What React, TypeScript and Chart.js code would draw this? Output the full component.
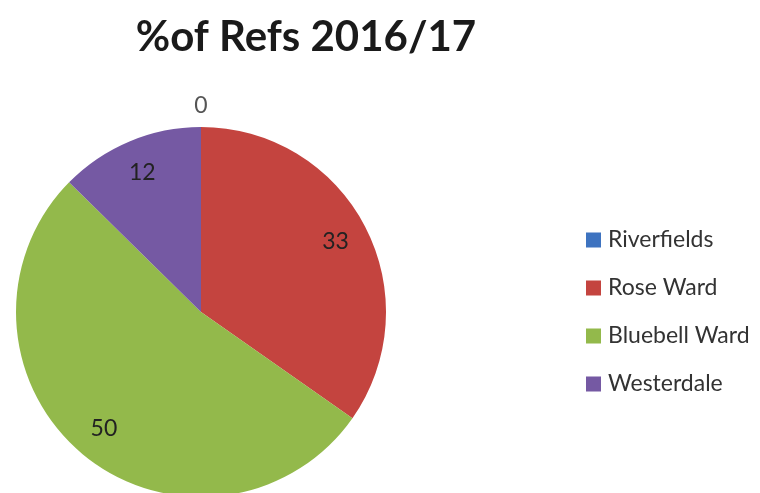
import React, { useEffect, useRef } from "react";
import { Chart, registerables } from "chart.js";

Chart.register(...registerables);

const TITLE = "%of Refs 2016/17";
const CATEGORIES = ["Riverfields", "Rose Ward", "Bluebell Ward", "Westerdale"];
const VALUES = [0, 33, 50, 12];
const COLORS = ["#3E73C0", "#C4443F", "#93B94B", "#7559A3"];

const FONT = "Lato, 'Open Sans', sans-serif";

const overlayPlugin = {
  id: "overlay",
  afterDraw(chart: any) {
    const ctx = chart.ctx;
    ctx.save();
    // Title
    ctx.fillStyle = "#1a1a1a";
    ctx.font = `bold 42px ${FONT}`;
    ctx.textAlign = "center";
    ctx.textBaseline = "alphabetic";
    ctx.fillText(TITLE, 306, 51);

    // Legend
    const labels: string[] = chart.data.labels;
    const colors: string[] = chart.data.datasets[0].backgroundColor;
    ctx.font = `23px ${FONT}`;
    ctx.textAlign = "left";
    ctx.textBaseline = "middle";
    labels.forEach((lab, i) => {
      const y = 240 + i * 48;
      ctx.fillStyle = colors[i];
      ctx.fillRect(586, y - 7.5, 15, 15);
      ctx.fillStyle = "#333";
      ctx.fillText(lab, 608, y);
    });

    // Data labels
    const meta = chart.getDatasetMeta(0);
    const data: number[] = chart.data.datasets[0].data;
    ctx.font = `23px ${FONT}`;
    ctx.textAlign = "center";
    ctx.textBaseline = "middle";
    meta.data.forEach((arc: any, i: number) => {
      const { x, y, startAngle, endAngle, outerRadius } = arc.getProps(
        ["x", "y", "startAngle", "endAngle", "outerRadius"],
        true
      );
      const mid = (startAngle + endAngle) / 2;
      const v = data[i];
      const r = v === 0 ? outerRadius + 21 : outerRadius * 0.82;
      ctx.fillStyle = v === 0 ? "#555" : "#222";
      ctx.fillText(String(v), x + Math.cos(mid) * r, y + Math.sin(mid) * r);
    });
    ctx.restore();
  },
};

export default function App() {
  const ref = useRef<HTMLCanvasElement | null>(null);
  useEffect(() => {
    if (!ref.current) return;
    const chart = new Chart(ref.current, {
      type: "pie",
      data: {
        labels: CATEGORIES,
        datasets: [
          {
            data: VALUES,
            backgroundColor: COLORS,
            borderWidth: 0,
            hoverOffset: 0,
          },
        ],
      },
      options: {
        responsive: false,
        maintainAspectRatio: false,
        animation: false,
        layout: { padding: { left: 16, right: 374, top: 127, bottom: 23 } },
        plugins: {
          legend: { display: false },
          title: { display: false },
          tooltip: { enabled: false },
        },
      },
      plugins: [overlayPlugin],
    });
    return () => chart.destroy();
  }, []);
  return (
    <div
      style={{
        position: "absolute",
        left: 0,
        top: 0,
        width: 760,
        height: 493,
        overflow: "hidden",
        background: "#fff",
      }}
    >
      <canvas ref={ref} width={760} height={520} style={{ display: "block" }} />
    </div>
  );
}
